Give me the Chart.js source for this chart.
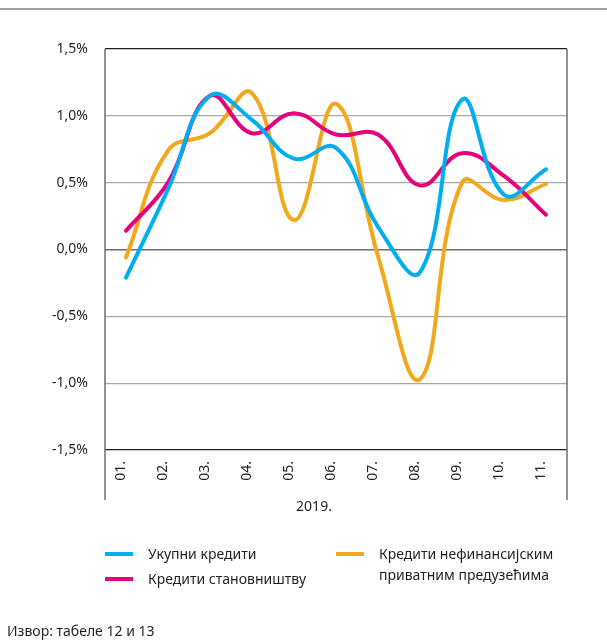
<!DOCTYPE html>
<html><head><meta charset="utf-8">
<script src="https://cdn.jsdelivr.net/npm/chart.js@4.4.1/dist/chart.umd.min.js"></script>
<style>
body{margin:0;background:#fff;font-family:"Noto Sans",sans-serif;color:#231f20}
#wrap{position:relative;width:607px;height:643px;overflow:hidden;background:#fff}
#c{position:absolute;left:0;top:0}
.topline{position:absolute;left:0;top:8px;width:607px;height:2px;background:#a0a0a0}
.leg{position:absolute;font-size:14px;line-height:21px;white-space:nowrap;color:#231f20}
.sw{position:absolute;width:28px;height:4px}
.src{position:absolute;left:7px;top:621px;font-size:14px;color:#231f20;white-space:nowrap}
</style></head>
<body><div id="wrap"><div class="topline"></div><canvas id="c" width="607" height="643"></canvas><div id="legend"></div><div class="src" id="src"></div></div>
<script>
const categories = ['01.','02.','03.','04.','05.','06.','07.','08.','09.','10.','11.'];
const yearLabel = '2019.';
const yTicks = [-1.5, -1.0, -0.5, 0, 0.5, 1.0, 1.5];
const seriesNames = ['Укупни кредити', 'Кредити становништву', 'Кредити нефинансијским приватним предузећима'];
const seriesColors = ['#00aeef', '#e6007e', '#f1a81d'];
const totalLoans     = [-0.21, 0.45, 1.15, 0.97, 0.68, 0.76, 0.17, -0.17, 1.12, 0.41, 0.60];
const householdLoans = [0.14, 0.50, 1.15, 0.87, 1.02, 0.86, 0.86, 0.48, 0.72, 0.55, 0.26];
const corporateLoans = [-0.06, 0.74, 0.87, 1.17, 0.22, 1.09, -0.05, -0.97, 0.50, 0.37, 0.49];
const sourceText = 'Извор: табеле 12 и 13';

const FONT = '"Noto Sans", sans-serif';

// legend (HTML text)
const legendItems = [
  {i:0, sx:105, sy:552, tx:148, ty:543, lines:['Укупни кредити']},
  {i:1, sx:105, sy:577, tx:148, ty:568, lines:['Кредити становништву']},
  {i:2, sx:336, sy:552, tx:379, ty:543, lines:['Кредити нефинансијским','приватним предузећима']}
];
const legendEl = document.getElementById('legend');
legendItems.forEach(it => {
  const sw = document.createElement('div');
  sw.className = 'sw';
  sw.style.left = it.sx + 'px'; sw.style.top = it.sy + 'px';
  sw.style.background = seriesColors[it.i];
  legendEl.appendChild(sw);
  const t = document.createElement('div');
  t.className = 'leg';
  t.style.left = it.tx + 'px'; t.style.top = it.ty + 'px';
  t.innerHTML = it.lines.join('<br>');
  legendEl.appendChild(t);
});
document.getElementById('src').textContent = sourceText;

const decor = {
  id: 'decor',
  afterDraw(chart) {
    const {ctx, chartArea: a, scales: {x}} = chart;
    ctx.save();
    ctx.strokeStyle = '#6d6e71';
    ctx.lineWidth = 1.5;
    [a.left, a.right].forEach(px => {
      ctx.beginPath(); ctx.moveTo(px, a.top); ctx.lineTo(px, a.bottom + 50); ctx.stroke();
    });
    ctx.fillStyle = '#231f20';
    ctx.font = '14px ' + FONT;
    categories.forEach((c, i) => {
      const px = x.getPixelForValue(i);
      ctx.save();
      ctx.translate(px - 5, a.bottom + 11);
      ctx.rotate(-Math.PI / 2);
      ctx.textAlign = 'right';
      ctx.textBaseline = 'middle';
      ctx.fillText(c, 0, 0);
      ctx.restore();
    });
    ctx.textAlign = 'center';
    ctx.textBaseline = 'middle';
    ctx.fillText(yearLabel, (a.left + a.right) / 2 - 22, a.bottom + 57);
    ctx.restore();
  }
};

const mk = (label, data, color) => ({
  label, data, borderColor: color, backgroundColor: color,
  borderWidth: 4, pointRadius: 0, pointHoverRadius: 0,
  tension: 0.42, fill: false, borderCapStyle: 'round', borderJoinStyle: 'round'
});

new Chart(document.getElementById('c'), {
  type: 'line',
  data: {
    labels: categories,
    datasets: [
      mk(seriesNames[0], totalLoans, seriesColors[0]),
      mk(seriesNames[1], householdLoans, seriesColors[1]),
      mk(seriesNames[2], corporateLoans, seriesColors[2])
    ]
  },
  options: {
    responsive: false,
    animation: false,
    devicePixelRatio: 1,
    layout: {padding: {left: 0, right: 40, top: 49, bottom: 0}},
    plugins: {legend: {display: false}, tooltip: {enabled: false}},
    scales: {
      x: {
        type: 'category',
        offset: true,
        grid: {display: false},
        border: {display: false},
        ticks: {display: false},
        afterFit(s) { s.height = 193; }
      },
      y: {
        min: -1.5, max: 1.5,
        afterBuildTicks(s) { s.ticks = yTicks.map(v => ({value: v})); },
        afterFit(s) { s.width = 105; },
        border: {display: false},
        grid: {
          drawTicks: false,
          color: c => {
            const v = c.tick ? c.tick.value : 0;
            if (Math.abs(v) === 1.5) return '#231f20';
            if (v === 0) return '#6d6e71';
            return '#a7a9ac';
          },
          lineWidth: c => {
            const v = c.tick ? c.tick.value : 0;
            return v === 0 ? 1.6 : 1.2;
          }
        },
        ticks: {
          padding: 17,
          color: '#231f20',
          font: {family: FONT, size: 14},
          callback: v => v.toFixed(1).replace('.', ',') + '%'
        }
      }
    }
  },
  plugins: [decor]
});
</script>
</body></html>
